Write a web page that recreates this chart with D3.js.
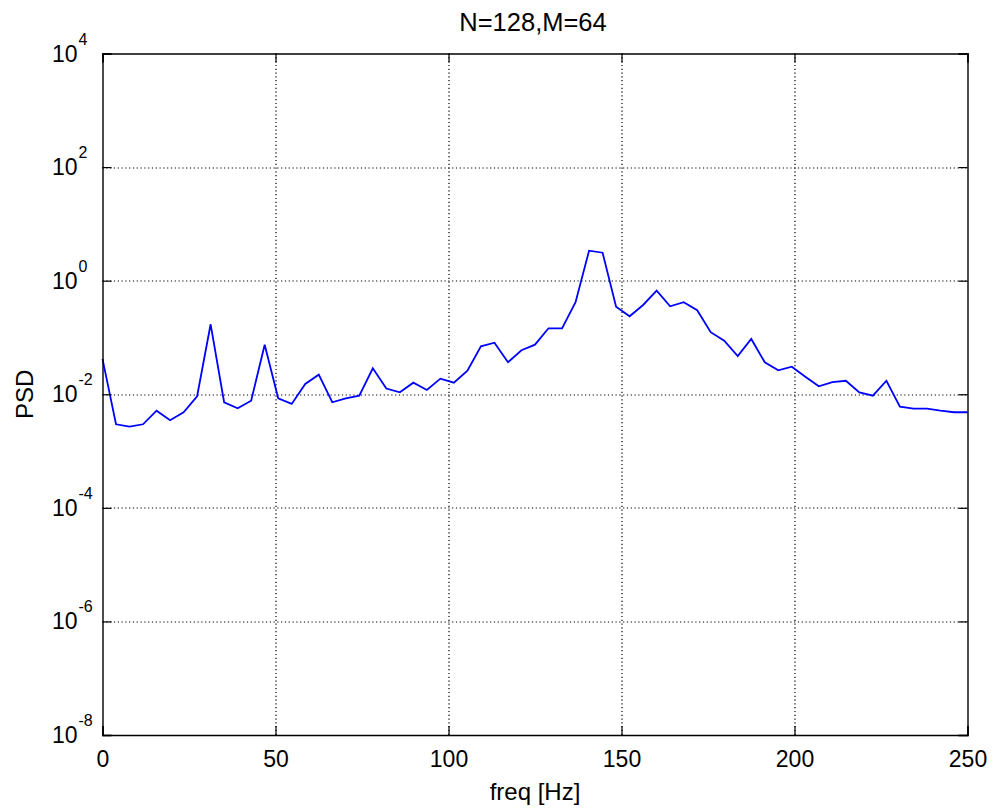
<!DOCTYPE html>
<html>
<head>
<meta charset="utf-8">
<script src="https://cdnjs.cloudflare.com/ajax/libs/d3/7.8.5/d3.min.js"></script>
<style>
    body { margin: 0; background: #fff; }
    svg { display: block; font-family: "Liberation Sans", Arial, sans-serif; }
</style>
</head>
<body>
<div id="chart"></div>
<script>

// frequency bins (N=128 -> 65 bins from 0 to fs/2)
var freq = [0, 3.906, 7.813, 11.719, 15.625, 19.531, 23.438, 27.344, 31.25, 35.156,
    39.063, 42.969, 46.875, 50.781, 54.688, 58.594, 62.5, 66.406, 70.313, 74.219,
    78.125, 82.031, 85.938, 89.844, 93.75, 97.656, 101.563, 105.469, 109.375, 113.281,
    117.188, 121.094, 125, 128.906, 132.813, 136.719, 140.625, 144.531, 148.438, 152.344,
    156.25, 160.156, 164.063, 167.969, 171.875, 175.781, 179.688, 183.594, 187.5, 191.406,
    195.313, 199.219, 203.125, 207.031, 210.938, 214.844, 218.75, 222.656, 226.563, 230.469,
    234.375, 238.281, 242.188, 246.094, 250];

// PSD estimate
var psd = [0.0419, 0.00296, 0.00269, 0.00296, 0.00514, 0.00348, 0.00482, 0.00923, 0.1706, 0.00723,
    0.00566, 0.00771, 0.0746, 0.00849, 0.00675, 0.0152, 0.0221, 0.00723, 0.00849, 0.00944,
    0.0286, 0.0126, 0.0108, 0.0160, 0.0119, 0.0188, 0.0160, 0.0260, 0.0700, 0.0809,
    0.0366, 0.0596, 0.0746, 0.145, 0.145, 0.417, 3.37, 3.11, 0.348, 0.236,
    0.373, 0.667, 0.354, 0.417, 0.301, 0.124, 0.0879, 0.0472, 0.0942, 0.0366,
    0.0264, 0.0306, 0.0204, 0.0138, 0.0163, 0.0173, 0.0108, 0.00944, 0.0173, 0.00605,
    0.00557, 0.00557, 0.00514, 0.00482, 0.00482];

var xTicks = [0, 50, 100, 150, 200, 250];
var yExponents = [4, 2, 0, -2, -4, -6, -8];

var titleText = "N=128,M=64";
var xLabel = "freq [Hz]";
var yLabel = "PSD";

var W = 997, H = 811;
var margin = {top: 53.5, right: 29.5, bottom: 76, left: 102.5};
var width = W - margin.left - margin.right;
var height = H - margin.top - margin.bottom;

var svg = d3.select("#chart").append("svg")
    .attr("width", W)
    .attr("height", H);

var g = svg.append("g")
    .attr("transform", "translate(" + margin.left + "," + margin.top + ")");

var x = d3.scaleLinear().domain([0, 250]).range([0, width]);
var y = d3.scaleLog().domain([1e-8, 1e4]).range([height, 0]);

var yTicks = yExponents.map(function(e) { return Math.pow(10, e); });

// grid (dotted)
g.selectAll(".xgrid")
    .data(xTicks.slice(1, -1))
    .enter().append("line")
    .attr("x1", function(d) { return Math.round(x(d)) + 0.5; })
    .attr("x2", function(d) { return Math.round(x(d)) + 0.5; })
    .attr("y1", 0).attr("y2", height)
    .attr("stroke", "#000").attr("stroke-width", 1.2)
    .attr("stroke-dasharray", "1.2,2.6");

g.selectAll(".ygrid")
    .data(yTicks.slice(1, -1))
    .enter().append("line")
    .attr("y1", function(d) { return Math.round(y(d)) + 0.5; })
    .attr("y2", function(d) { return Math.round(y(d)) + 0.5; })
    .attr("x1", 0).attr("x2", width)
    .attr("stroke", "#000").attr("stroke-width", 1.2)
    .attr("stroke-dasharray", "1.2,2.6");

// the data line
var line = d3.line()
    .x(function(d, i) { return x(freq[i]); })
    .y(function(d) { return y(d); });

g.append("path")
    .datum(psd)
    .attr("d", line)
    .attr("fill", "none")
    .attr("stroke", "#0000ff")
    .attr("stroke-width", 1.8)
    .attr("stroke-linejoin", "miter");

// axes: bottom / left with labels, top / right just ticks (inward, like matlab)
var tickLen = 9;
var xAxis = d3.axisBottom(x).tickValues(xTicks).tickSize(-tickLen).tickPadding(16).tickFormat(d3.format("d"));
var xAxisTop = d3.axisTop(x).tickValues(xTicks).tickSize(-tickLen).tickFormat("");
var yAxis = d3.axisLeft(y).tickValues(yTicks).tickSize(-tickLen).tickFormat("");
var yAxisRight = d3.axisRight(y).tickValues(yTicks).tickSize(-tickLen).tickFormat("");

var gx = g.append("g").attr("transform", "translate(0," + height + ")").call(xAxis);
g.append("g").call(xAxisTop);
g.append("g").call(yAxis);
g.append("g").attr("transform", "translate(" + width + ",0)").call(yAxisRight);

g.selectAll(".domain").attr("stroke", "#000").attr("stroke-width", 1.4);
g.selectAll(".tick line").attr("stroke", "#000").attr("stroke-width", 1.2);

gx.selectAll(".tick text")
    .attr("font-size", 23)
    .attr("fill", "#000")
    .attr("font-family", "Liberation Sans, Arial, sans-serif");

// y tick labels as 10^n
var ylab = g.selectAll(".ylab")
    .data(yExponents)
    .enter().append("g")
    .attr("transform", function(d) { return "translate(-25," + y(Math.pow(10, d)) + ")"; });

ylab.append("text")
    .attr("text-anchor", "end")
    .attr("y", 8)
    .attr("font-size", 23)
    .text("10");

ylab.append("text")
    .attr("x", 1)
    .attr("y", -9)
    .attr("font-size", 16)
    .text(function(d) { return d; });

// title and axis labels
svg.append("text")
    .attr("x", margin.left + width / 2 - 2)
    .attr("y", 31)
    .attr("text-anchor", "middle")
    .attr("font-size", 25.5)
    .text(titleText);

svg.append("text")
    .attr("x", margin.left + width / 2)
    .attr("y", 800)
    .attr("text-anchor", "middle")
    .attr("font-size", 24)
    .text(xLabel);

svg.append("text")
    .attr("transform", "translate(33," + (margin.top + height / 2) + ") rotate(-90)")
    .attr("text-anchor", "middle")
    .attr("font-size", 24)
    .text(yLabel);

</script>
</body>
</html>
